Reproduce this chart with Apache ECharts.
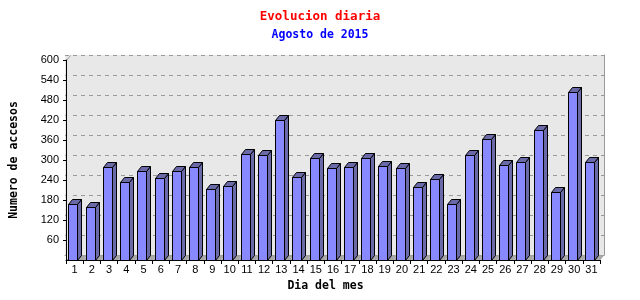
<!DOCTYPE html>
<html>
<head>
<meta charset="utf-8">
<script src="https://cdn.jsdelivr.net/npm/echarts@6/dist/echarts.min.js"></script>
<style>html,body{margin:0;padding:0;background:#fff;}#c{width:640px;height:300px;}</style>
</head>
<body>
<div id="c"></div>
<script>
const days = ['1','2','3','4','5','6','7','8','9','10','11','12','13','14','15','16','17','18','19','20','21','22','23','24','25','26','27','28','29','30','31'];
const accesos = [168,158,278,233,266,245,266,278,212,221,317,314,419,248,305,275,278,305,281,275,218,243,167,314,362,284,293,389,203,503,293];
const yTicks = [0,60,120,180,240,300,360,420,480,540,600];

const DX = 4, DY = 5;
const chart = echarts.init(document.getElementById('c'), null, {renderer:'canvas'});
const mono = '"DejaVu Sans Mono", monospace';

function renderBar(params, api){
  const i = api.value(0), v = api.value(1);
  const base = api.coord([i, 0]);
  const top = api.coord([i, v]);
  const bw = api.size([1, 0])[0];
  const cx = base[0];
  const by = Math.round(base[1]) + 0.5;
  const ty = Math.round(top[1]) + 0.5;
  const l = Math.round(cx - bw * 0.36) + 0.5;
  const r = l + Math.round(bw * 0.52);
  const fl = cx - bw / 2, fr = cx + bw / 2;
  const children = [];
  children.push({type:'polygon', z2:0, shape:{points:[[fl,by],[fr,by],[fr+DX,by-DY],[fl+DX,by-DY]]}, style:{fill:'#a8a8a8', stroke:null}});
  if (params.dataIndex === 0) {
    const t = api.coord([i, 600]);
    const ax = cx - bw/2;
    children.push({type:'polygon', z2:0, shape:{points:[[ax,by],[ax,t[1]],[ax+DX,t[1]-DY],[ax+DX,by-DY]]}, style:{fill:'#e8e8e8', stroke:null}});
    children.push({type:'line', z2:5, shape:{x1:Math.round(ax)+0.5,y1:Math.round(t[1])+0.5,x2:Math.round(ax)+DX+0.5,y2:Math.round(t[1])-DY+0.5}, style:{stroke:'#999', lineWidth:1}});
  }
  const stroke = {stroke:'#000', lineWidth:1};
  children.push({type:'polygon', z2:2, shape:{points:[[r,ty],[r+DX,ty-DY],[r+DX,by-DY],[r,by]]}, style:Object.assign({fill:'#6a6aa8'}, stroke)});
  children.push({type:'polygon', z2:2, shape:{points:[[l,ty],[l+DX,ty-DY],[r+DX,ty-DY],[r,ty]]}, style:Object.assign({fill:'#6a6aa8'}, stroke)});
  children.push({type:'polygon', z2:3, shape:{points:[[l,ty],[r,ty],[r,by],[l,by]]}, style:Object.assign({fill:'#8888ff'}, stroke)});
  return {type:'group', children};
}

const option = {
  animation:false,
  title:[
    {text:'Evolucion diaria', left:'center', top:5, textStyle:{color:'#ff0000', fontFamily:mono, fontSize:12.5, fontWeight:'bold'}},
    {text:'Agosto de 2015', left:'center', top:24, textStyle:{color:'#0000ff', fontFamily:mono, fontSize:11.5, fontWeight:'bold'}}
  ],
  grid:[
    {left:61, right:40, top:60, bottom:40, show:false},
    {left:65, right:36, top:55, bottom:45, show:true, backgroundColor:'#e8e8e8', borderWidth:0}
  ],
  xAxis:[
    {gridIndex:0, type:'category', data:days, boundaryGap:true,
     name:'Dia del mes', nameLocation:'middle', nameGap:15,
     nameTextStyle:{fontFamily:mono, fontWeight:'bold', fontSize:11.5, color:'#000', padding:[0,15,0,0]},
     axisLine:{lineStyle:{color:'#000', width:1}},
     axisTick:{show:true, length:4, lineStyle:{color:'#000'}},
     axisLabel:{color:'#000', fontFamily:'"Liberation Sans", Arial, sans-serif', fontSize:11, margin:4, interval:0},
     splitLine:{show:false}, z:3},
    {gridIndex:1, type:'category', data:days, position:'top',
     axisLine:{lineStyle:{color:'#999'}}, axisTick:{show:false}, axisLabel:{show:false}, splitLine:{show:false}}
  ],
  yAxis:[
    {gridIndex:0, type:'value', min:0, max:600, interval:60,
     name:'Numero de accesos', nameLocation:'middle', nameGap:46, nameRotate:90,
     nameTextStyle:{fontFamily:mono, fontWeight:'bold', fontSize:11.5, color:'#000'},
     axisLine:{show:true, lineStyle:{color:'#000', width:1}},
     axisTick:{show:true, length:3, lineStyle:{color:'#000'}},
     axisLabel:{color:'#000', fontFamily:'"Liberation Sans", Arial, sans-serif', fontSize:11, margin:7, showMinLabel:false, padding:[4,0,0,0]},
     splitLine:{show:false}, z:3},
    {gridIndex:1, type:'value', min:0, max:600, interval:60, position:'right',
     axisLine:{show:true, lineStyle:{color:'#999'}}, axisTick:{show:false}, axisLabel:{show:false},
     splitLine:{show:true, lineStyle:{color:'#999', type:[4,4], width:1}}}
  ],
  series:[
    {type:'custom', xAxisIndex:0, yAxisIndex:0, renderItem:renderBar,
     data: accesos.map((v,i)=>[i,v]), encode:{x:0, y:1}, clip:false, z:2}
  ]
};
chart.setOption(option);
</script>
</body>
</html>
